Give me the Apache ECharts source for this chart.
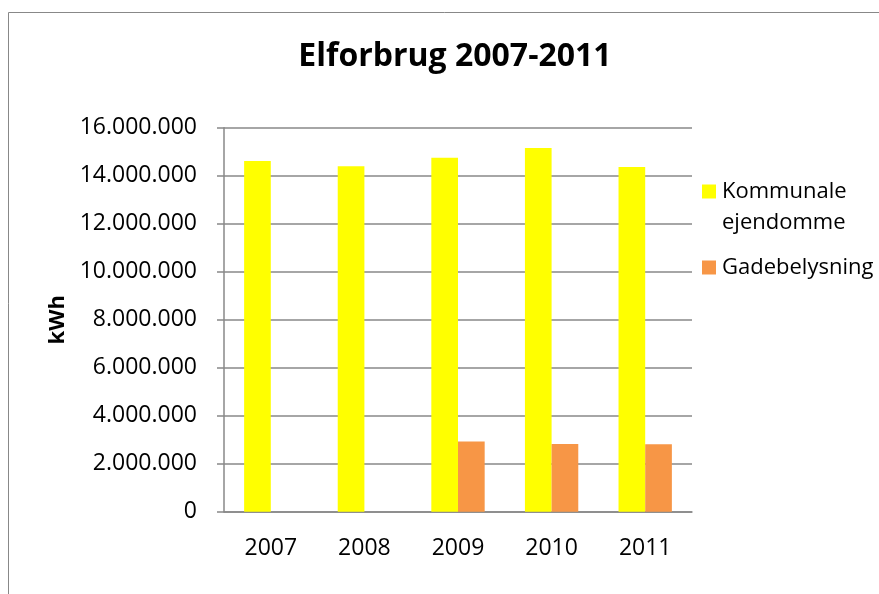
<!DOCTYPE html>
<html>
<head>
<meta charset="utf-8">
<script src="https://cdn.jsdelivr.net/npm/echarts@6/dist/echarts.min.js"></script>
<style>
html,body{margin:0;padding:0;background:#fff;}
#main{width:879px;height:594px;}
</style>
</head>
<body>
<div id="main"></div>
<script>
var categories = ['2007', '2008', '2009', '2010', '2011'];
var kommunale = [14610000, 14390000, 14750000, 15150000, 14360000];
var gadebelysning = [null, null, 2930000, 2820000, 2810000];
var seriesNames = ['Kommunale ejendomme', 'Gadebelysning'];
var titleText = 'Elforbrug 2007-2011';
var axisName = 'kWh';

function fmt(v) {
  return String(v).replace(/\B(?=(\d{3})+(?!\d))/g, '.');
}

var chart = echarts.init(document.getElementById('main'), null, {renderer: 'canvas'});
var FONT = 'Open Sans';
chart.setOption({
  animation: false,
  backgroundColor: '#fff',
  graphic: [{
    type: 'rect', shape: {x: 8.5, y: 12.5, width: 1000, height: 1000},
    style: {fill: 'none', stroke: '#888', lineWidth: 1}, silent: true, z: -1
  }],
  title: {
    text: titleText, left: 450, textAlign: 'center', top: 36,
    textStyle: {fontFamily: FONT, fontWeight: 'bold', fontSize: 32, color: '#000'}
  },
  legend: {
    orient: 'vertical', left: 697, top: 140, itemWidth: 14, itemHeight: 14, itemGap: 14,
    icon: 'rect',
    formatter: function (n) { return n === seriesNames[0] ? '\nKommunale\nejendomme' : n; },
    textStyle: {fontFamily: FONT, fontSize: 22, color: '#000', lineHeight: 31, padding: [0,0,0,1]}
  },
  grid: {left: 224, right: 187, top: 127.7, bottom: 82.3},
  xAxis: {
    type: 'category', data: categories,
    axisLine: {lineStyle: {color: '#888', width: 1.5}},
    axisTick: {show: false},
    axisLabel: {fontFamily: FONT, fontSize: 23, color: '#000', margin: 25}
  },
  yAxis: {
    type: 'value', min: 0, max: 16000000, interval: 2000000,
    name: axisName, nameLocation: 'middle', nameRotate: 90, nameGap: 155,
    nameTextStyle: {fontFamily: FONT, fontWeight: 'bold', fontSize: 22, color: '#000'},
    axisLine: {show: true, lineStyle: {color: '#888', width: 1.5}},
    axisTick: {show: true, length: 7, lineStyle: {color: '#888', width: 1.5}},
    splitLine: {lineStyle: {color: '#888', width: 1.5}},
    axisLabel: {fontFamily: FONT, fontSize: 23, color: '#000', margin: 27, formatter: fmt}
  },
  series: [{
    name: seriesNames[0], type: 'bar', data: kommunale,
    itemStyle: {color: '#FFFF00'}, barGap: '0%', barCategoryGap: '43%'
  }, {
    name: seriesNames[1], type: 'bar', data: gadebelysning,
    itemStyle: {color: '#F79646'}, barGap: '0%', barCategoryGap: '43%'
  }]
});
</script>
</body>
</html>
